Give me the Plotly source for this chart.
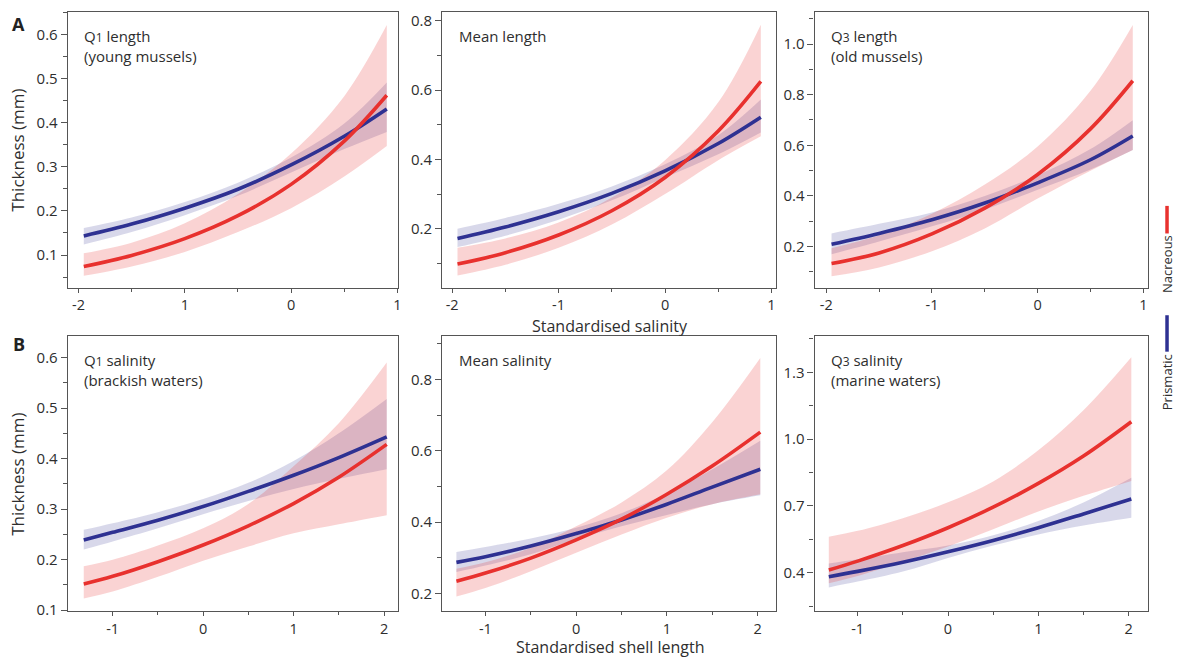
import plotly.graph_objects as go

# ---------------- data ----------------
x_top = [-1.95, -1.5, -1.0, -0.5, 0.0, 0.5, 0.9]
x_bottom = [-1.32, -1.0, -0.5, 0.0, 0.5, 1.0, 1.5, 2.03]

# Row A: thickness vs standardised salinity
q1len_nac_mean = [0.074, 0.099, 0.137, 0.189, 0.260, 0.358, 0.462]
q1len_nac_lo = [0.053, 0.074, 0.107, 0.152, 0.206, 0.278, 0.347]
q1len_nac_hi = [0.104, 0.128, 0.172, 0.238, 0.330, 0.460, 0.621]
q1len_pri_mean = [0.143, 0.170, 0.206, 0.249, 0.304, 0.369, 0.431]
q1len_pri_lo = [0.124, 0.152, 0.190, 0.234, 0.287, 0.340, 0.379]
q1len_pri_hi = [0.161, 0.185, 0.220, 0.264, 0.321, 0.398, 0.491]

meanlen_nac_mean = [0.098, 0.131, 0.182, 0.252, 0.348, 0.482, 0.625]
meanlen_nac_lo = [0.065, 0.096, 0.145, 0.212, 0.300, 0.398, 0.467]
meanlen_nac_hi = [0.145, 0.172, 0.218, 0.290, 0.398, 0.565, 0.789]
meanlen_pri_mean = [0.172, 0.205, 0.249, 0.302, 0.367, 0.446, 0.522]
meanlen_pri_lo = [0.147, 0.180, 0.226, 0.282, 0.348, 0.415, 0.478]
meanlen_pri_hi = [0.200, 0.231, 0.272, 0.322, 0.386, 0.470, 0.573]

q3len_nac_mean = [0.133, 0.175, 0.250, 0.352, 0.485, 0.665, 0.855]
q3len_nac_lo = [0.083, 0.118, 0.182, 0.272, 0.390, 0.500, 0.582]
q3len_nac_hi = [0.194, 0.245, 0.330, 0.445, 0.595, 0.815, 1.075]
q3len_pri_mean = [0.209, 0.252, 0.306, 0.372, 0.452, 0.543, 0.637]
q3len_pri_lo = [0.170, 0.220, 0.280, 0.346, 0.425, 0.505, 0.582]
q3len_pri_hi = [0.252, 0.290, 0.335, 0.400, 0.482, 0.585, 0.699]

# Row B: thickness vs standardised shell length
q1sal_nac_mean = [0.152, 0.167, 0.196, 0.229, 0.267, 0.311, 0.363, 0.428]
q1sal_nac_lo = [0.123, 0.137, 0.166, 0.198, 0.226, 0.252, 0.270, 0.288]
q1sal_nac_hi = [0.187, 0.200, 0.228, 0.262, 0.310, 0.385, 0.470, 0.590]
q1sal_pri_mean = [0.239, 0.254, 0.278, 0.305, 0.335, 0.367, 0.402, 0.443]
q1sal_pri_lo = [0.220, 0.236, 0.262, 0.290, 0.316, 0.340, 0.360, 0.379]
q1sal_pri_hi = [0.259, 0.272, 0.294, 0.320, 0.352, 0.395, 0.450, 0.518]

meansal_nac_mean = [0.234, 0.257, 0.299, 0.350, 0.408, 0.478, 0.557, 0.652]
meansal_nac_lo = [0.191, 0.215, 0.262, 0.314, 0.365, 0.412, 0.450, 0.478]
meansal_nac_hi = [0.269, 0.287, 0.328, 0.388, 0.455, 0.545, 0.680, 0.860]
meansal_pri_mean = [0.287, 0.303, 0.333, 0.368, 0.406, 0.450, 0.498, 0.548]
meansal_pri_lo = [0.260, 0.278, 0.310, 0.352, 0.388, 0.420, 0.450, 0.475]
meansal_pri_hi = [0.316, 0.330, 0.354, 0.384, 0.425, 0.480, 0.548, 0.628]

q3sal_nac_mean = [0.412, 0.452, 0.522, 0.602, 0.694, 0.801, 0.924, 1.078]
q3sal_nac_lo = [0.353, 0.385, 0.450, 0.518, 0.595, 0.675, 0.745, 0.812]
q3sal_nac_hi = [0.562, 0.588, 0.645, 0.716, 0.810, 0.950, 1.130, 1.368]
q3sal_pri_mean = [0.382, 0.406, 0.447, 0.494, 0.545, 0.602, 0.664, 0.731]
q3sal_pri_lo = [0.334, 0.360, 0.405, 0.466, 0.522, 0.572, 0.612, 0.647]
q3sal_pri_hi = [0.441, 0.460, 0.492, 0.522, 0.568, 0.632, 0.715, 0.826]

panel_titles = ["Q<span style='font-size:12px'>1</span> length<br>(young mussels)",
                "Mean length",
                "Q<span style='font-size:12px'>3</span> length<br>(old mussels)",
                "Q<span style='font-size:12px'>1</span> salinity<br>(brackish waters)",
                "Mean salinity",
                "Q<span style='font-size:12px'>3</span> salinity<br>(marine waters)"]
top_xtick_vals = [-2, -1, 0, 1]
first_panel_xtick_text = ["-2", "1", "0", "1"]
bottom_xtick_vals = [-1, 0, 1, 2]
legend_labels = ["Nacreous", "Prismatic"]
x_title_top = "Standardised salinity"
x_title_bottom = "Standardised shell length"
y_title = "Thickness (mm)"

# ---------------- styling ----------------
W, H = 1179, 667
FONT = "Open Sans"
RED = "#e8312e"
BLUE = "#2e3192"
RED_FILL = "rgba(232,49,46,0.21)"
BLUE_FILL = "rgba(46,49,146,0.19)"
AXC = "#555555"
TXT = "#2e2e2e"

panels = [
    (x_top, q1len_nac_mean, q1len_nac_lo, q1len_nac_hi, q1len_pri_mean, q1len_pri_lo, q1len_pri_hi),
    (x_top, meanlen_nac_mean, meanlen_nac_lo, meanlen_nac_hi, meanlen_pri_mean, meanlen_pri_lo, meanlen_pri_hi),
    (x_top, q3len_nac_mean, q3len_nac_lo, q3len_nac_hi, q3len_pri_mean, q3len_pri_lo, q3len_pri_hi),
    (x_bottom, q1sal_nac_mean, q1sal_nac_lo, q1sal_nac_hi, q1sal_pri_mean, q1sal_pri_lo, q1sal_pri_hi),
    (x_bottom, meansal_nac_mean, meansal_nac_lo, meansal_nac_hi, meansal_pri_mean, meansal_pri_lo, meansal_pri_hi),
    (x_bottom, q3sal_nac_mean, q3sal_nac_lo, q3sal_nac_hi, q3sal_pri_mean, q3sal_pri_lo, q3sal_pri_hi),
]

col_px = [(68, 399.5), (443.3, 777.7), (816.7, 1150.5)]
row_px = [(10, 290), (339.3, 618.5)]
x_ranges = [[-2.1, 1.01], [-2.094, 1.04], [-2.11, 1.04],
            [-1.496, 2.16], [-1.477, 2.2], [-1.477, 2.21]]
y_ranges = [[0.026, 0.651], [0.03, 0.826], [0.038, 1.127],
            [0.098, 0.642], [0.15, 0.921], [0.227, 1.462]]
y_dticks = [(0.1, 0.05, 0), (0.2, 0.1, 0), (0.2, 0.1, 0),
            (0.1, 0.05, 0), (0.2, 0.1, 0), (0.3, 0.15, 0.1)]

fig = go.Figure()
layout = dict(width=W, height=H, margin=dict(l=0, r=0, t=0, b=0),
              paper_bgcolor="white", plot_bgcolor="white", showlegend=False,
              font=dict(family=FONT, color=TXT))
annotations = []
shapes = []

for i, (xs, nm, nl, nh, pm, pl, ph) in enumerate(panels):
    r, c = divmod(i, 3)
    sfx = "" if i == 0 else str(i + 1)
    xa, ya = "x" + sfx, "y" + sfx
    # confidence bands
    for lo, hi, fc in ((pl, ph, BLUE_FILL), (nl, nh, RED_FILL)):
        fig.add_trace(go.Scatter(x=xs, y=lo, mode="lines", line=dict(width=0, shape="spline", color=fc),
                                 xaxis=xa, yaxis=ya, hoverinfo="skip"))
        fig.add_trace(go.Scatter(x=xs, y=hi, mode="lines", line=dict(width=0, shape="spline", color=fc),
                                 fill="tonexty", fillcolor=fc, xaxis=xa, yaxis=ya, hoverinfo="skip"))
    fig.add_trace(go.Scatter(x=xs, y=pm, mode="lines", line=dict(width=3.6, color=BLUE, shape="spline"),
                             xaxis=xa, yaxis=ya, name=legend_labels[1]))
    fig.add_trace(go.Scatter(x=xs, y=nm, mode="lines", line=dict(width=3.6, color=RED, shape="spline"),
                             xaxis=xa, yaxis=ya, name=legend_labels[0]))

    x0, x1 = col_px[c]
    y0, y1 = row_px[r]
    xdom = [x0 / W, x1 / W]
    ydom = [1 - y1 / H, 1 - y0 / H]
    if r == 0:
        tv = top_xtick_vals
        tt = first_panel_xtick_text if i == 0 else [str(v) for v in tv]
    else:
        tv = bottom_xtick_vals
        tt = [str(v) for v in tv]
    layout["xaxis" + sfx] = dict(domain=xdom, anchor=ya, range=x_ranges[i], tickmode="array",
                                 tickvals=tv, ticktext=tt, ticks="outside", ticklen=4, tickwidth=1.2,
                                 tickcolor=AXC, showline=True, linecolor=AXC, linewidth=1.3, mirror=True,
                                 showgrid=False, zeroline=False,
                                 tickfont=dict(size=14.5, family=FONT, color=TXT),
                                 minor=dict(dtick=0.5, tick0=0, ticks="outside", ticklen=3,
                                            tickcolor=AXC, tickwidth=1.2, showgrid=False))
    dt, mdt, t0 = y_dticks[i]
    layout["yaxis" + sfx] = dict(domain=ydom, anchor=xa, range=y_ranges[i], tickmode="linear",
                                 dtick=dt, tick0=t0, tickformat=".1f", ticks="outside", ticklen=6,
                                 tickwidth=1.2, tickcolor=AXC, showline=True, linecolor=AXC,
                                 linewidth=1.3, mirror=True, showgrid=False, zeroline=False,
                                 tickfont=dict(size=15, family=FONT, color=TXT),
                                 minor=dict(dtick=mdt, tick0=t0, ticks="outside", ticklen=4,
                                            tickcolor=AXC, tickwidth=1.2, showgrid=False))
    tx = [82.7, 458, 830.7][c]
    ty = row_px[r][0] + 12
    annotations.append(dict(x=tx / W, y=1 - ty / H, xref="paper", yref="paper", text=panel_titles[i],
                            showarrow=False, xanchor="left", yanchor="top", align="left",
                            font=dict(size=15, family=FONT, color=TXT)))

# panel letters
for letter, py in (("A", 22), ("B", 347)):
    annotations.append(dict(x=19 / W, y=1 - py / H, xref="paper", yref="paper", text="<b>" + letter + "</b>",
                            showarrow=False, xanchor="center", yanchor="middle",
                            font=dict(size=18, family=FONT, color="#222222")))
# y titles
for py in (150, 479):
    annotations.append(dict(x=18 / W, y=1 - py / H, xref="paper", yref="paper", text=y_title,
                            showarrow=False, textangle=-90, xanchor="center", yanchor="middle",
                            font=dict(size=17, family=FONT, color=TXT)))
# x titles
annotations.append(dict(x=612 / W, y=1 - 329 / H, xref="paper", yref="paper", text=x_title_top,
                        showarrow=False, xanchor="center", yanchor="middle", borderpad=0,
                        font=dict(size=16, family=FONT, color=TXT)))
annotations.append(dict(x=612 / W, y=0, xref="paper", yref="paper", text=x_title_bottom,
                        showarrow=False, xanchor="center", yanchor="bottom", borderpad=0,
                        font=dict(size=16, family=FONT, color=TXT)))
# legend (vertical labels with colour bars)
for label, color, (ly0, ly1), ty in ((legend_labels[0], RED, (207, 235), 266),
                                     (legend_labels[1], BLUE, (318, 355), 386)):
    shapes.append(dict(type="line", xref="paper", yref="paper", x0=1170 / W, x1=1170 / W,
                       y0=1 - ly0 / H, y1=1 - ly1 / H, line=dict(color=color, width=3.5)))
    annotations.append(dict(x=1170 / W, y=1 - ty / H, xref="paper", yref="paper", text=label,
                            showarrow=False, textangle=-90, xanchor="center", yanchor="middle",
                            font=dict(size=13, family=FONT, color=TXT)))

layout["annotations"] = annotations
layout["shapes"] = shapes
fig.update_layout(**layout)
fig.write_html("out.html")
